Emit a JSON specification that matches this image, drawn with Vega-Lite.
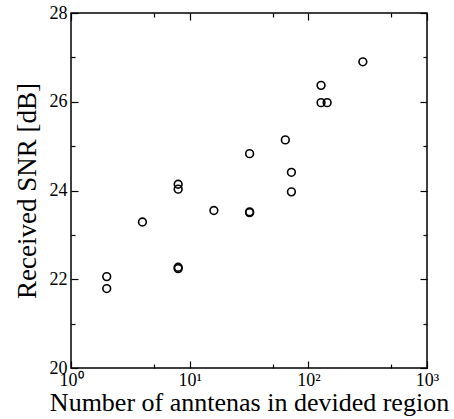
{
  "$schema": "https://vega.github.io/schema/vega-lite/v6.json",
  "width": 356,
  "height": 355,
  "autosize": {"type": "none"},
  "padding": {"left": 71, "top": 13, "right": 27, "bottom": 51},
  "background": "white",
  "config": {
    "view": {"stroke": "black", "strokeWidth": 1.5},
    "font": "Liberation Serif",
    "axis": {"grid": false, "domain": false, "tickColor": "black", "tickWidth": 1.2, "labelColor": "black", "titleColor": "black", "labelFont": "Liberation Serif", "titleFont": "Liberation Serif", "titleFontWeight": "normal", "labelFontSize": 18}
  },
  "data": {"values": [
    {"n": 2, "snr": 22.06},
    {"n": 2, "snr": 21.79},
    {"n": 4, "snr": 23.29},
    {"n": 8, "snr": 24.14},
    {"n": 8, "snr": 24.03},
    {"n": 8, "snr": 22.27},
    {"n": 8, "snr": 22.24},
    {"n": 16, "snr": 23.55},
    {"n": 32, "snr": 24.83},
    {"n": 32, "snr": 23.52},
    {"n": 32, "snr": 23.5},
    {"n": 64, "snr": 25.14},
    {"n": 72, "snr": 24.41},
    {"n": 72, "snr": 23.97},
    {"n": 128, "snr": 26.37},
    {"n": 128, "snr": 25.98},
    {"n": 144, "snr": 25.98},
    {"n": 288, "snr": 26.9}
  ]},
  "layer": [
    {
      "mark": {"type": "point", "shape": "circle", "filled": false, "stroke": "black", "strokeWidth": 1.6, "size": 60, "opacity": 1},
      "encoding": {
        "x": {"field": "n", "type": "quantitative", "scale": {"type": "log", "domain": [1, 1000], "nice": false},
          "axis": {"orient": "bottom", "values": [1, 5, 10, 50, 100, 500, 1000], "tickSize": {"condition": {"test": "datum.value == 5 || datum.value == 50 || datum.value == 500", "value": -4}, "value": -7}, "labelPadding": 10, "labelExpr": "datum.value == 1 ? '10⁰' : datum.value == 10 ? '10¹' : datum.value == 100 ? '10²' : datum.value == 1000 ? '10³' : ''", "title": "Number of anntenas in devided region", "titleFontSize": 26, "titlePadding": -3, "labelFlush": false, "labelOverlap": false}},
        "y": {"field": "snr", "type": "quantitative", "scale": {"domain": [20, 28], "nice": false, "zero": false},
          "axis": {"orient": "left", "values": [20, 21, 22, 23, 24, 25, 26, 27, 28], "tickSize": {"condition": {"test": "datum.value % 2 == 1", "value": -4}, "value": -7}, "labelPadding": 11, "labelExpr": "datum.value % 2 == 0 ? datum.label : ''", "title": "Received SNR [dB]", "titleFontSize": 27, "titlePadding": 8, "labelFlush": false, "labelOverlap": false}}
      }
    },
    {
      "mark": {"type": "point", "opacity": 0},
      "encoding": {
        "x": {"field": "n", "type": "quantitative", "scale": {"type": "log", "domain": [1, 1000], "nice": false},
          "axis": {"orient": "top", "values": [1, 5, 10, 50, 100, 500, 1000], "tickSize": {"condition": {"test": "datum.value == 5 || datum.value == 50 || datum.value == 500", "value": -4}, "value": -7}, "labels": false, "title": null}},
        "y": {"field": "snr", "type": "quantitative", "scale": {"domain": [20, 28], "nice": false, "zero": false},
          "axis": {"orient": "right", "values": [20, 21, 22, 23, 24, 25, 26, 27, 28], "tickSize": {"condition": {"test": "datum.value % 2 == 1", "value": -4}, "value": -7}, "labels": false, "title": null}}
      }
    }
  ],
  "resolve": {"axis": {"x": "independent", "y": "independent"}}
}
